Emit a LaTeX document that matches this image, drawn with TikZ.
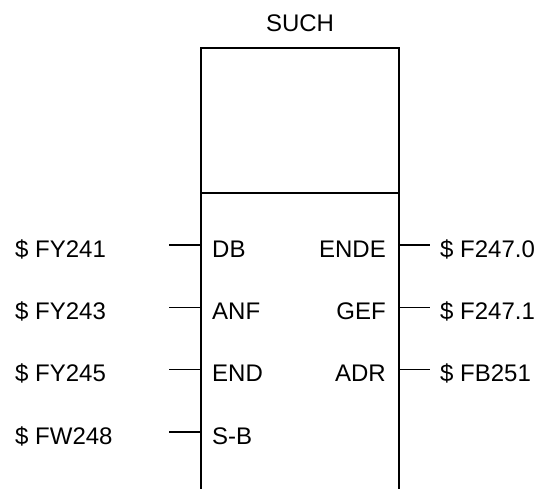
\documentclass[tikz,border=0pt]{standalone}
\usepackage{fontspec}
\setmainfont{Liberation Sans}
\usetikzlibrary{calc}
\tikzset{
	pin/.style={line width=1.5pt},
	sig/.style={font=\fontsize{24}{28}\selectfont, inner sep=0pt}
}

\begin{document}
\begin{tikzpicture}[x=1pt, y=1pt]
		%%%%% START %%%%%
		\useasboundingbox (0, 0) rectangle (544, 489);
		
		% block body, open to the bottom
		\coordinate (bl) at (201, 0);
		\coordinate (br) at (399, 0);
		\draw[pin] (bl) -- (201, 441) -- (399, 441) -- (br);
		\draw[pin] (201, 296) -- (399, 296);
		\node[sig, anchor=base] (name) at (300, 457) {SUCH};
		
		% inputs
		\foreach \y/\pin/\op [count=\i] in {231.5/DB/FY241, 169.2/ANF/FY243, 107/END/FY245, 44.7/S-B/FW248}{
			\node[sig, anchor=base west] (ip\i) at (212, \y) {\pin};
			\node[sig, anchor=base west] (iop\i) at (15, \y) {\$ \op};
			\coordinate (ie\i) at (169, \y+12.5);
			\draw[pin] (ie\i) -- (ie\i -| bl);
		}
		
		% outputs
		\foreach \y/\pin/\op [count=\i] in {231.5/ENDE/F247.0, 169.2/GEF/F247.1, 107/ADR/FB251}{
			\node[sig, anchor=base east] (op\i) at (386, \y) {\pin};
			\node[sig, anchor=base west] (oop\i) at (440, \y) {\$ \op};
			\coordinate (oe\i) at (430, \y+12.5);
			\draw[pin] (oe\i -| br) -- (oe\i);
		}
		
		%%%%% END %%%%%
	\end{tikzpicture}
\end{document}
